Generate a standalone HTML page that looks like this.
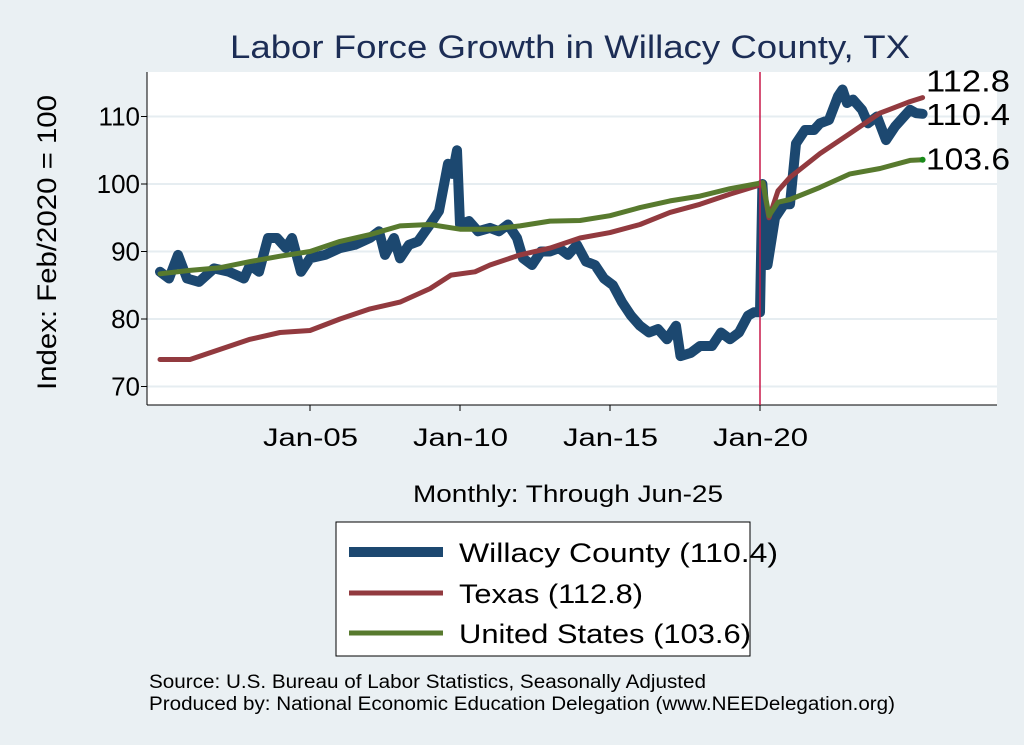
<!DOCTYPE html>
<html><head><meta charset="utf-8"><style>
body{margin:0;background:#eaf0f3;}
svg{display:block;font-family:"Liberation Sans",sans-serif;}
</style></head><body>
<svg width="1024" height="745" viewBox="0 0 1024 745" xml:space="preserve">
<rect x="0" y="0" width="1024" height="745" fill="#eaf0f3"/>
<rect x="147" y="72" width="850" height="333" fill="#fff"/>
<text x="230" y="58" font-size="32" fill="#1c2d55" textLength="680" lengthAdjust="spacingAndGlyphs">Labor Force Growth in Willacy  County, TX</text>
<g id="grid"></g>
<g id="yticks"></g>
<g id="xticks"></g>
<line x1="147" y1="72" x2="147" y2="405" stroke="#000" stroke-width="1"/>
<line x1="147" y1="405" x2="997" y2="405" stroke="#000" stroke-width="1"/>
<text transform="translate(56,390) rotate(-90)" font-size="27" textLength="295" lengthAdjust="spacingAndGlyphs" fill="#000">Index: Feb/2020 = 100</text>
<text x="413" y="502" font-size="24" textLength="310" lengthAdjust="spacingAndGlyphs" fill="#000">Monthly: Through Jun-25</text>
<g id="series"></g>
<g id="endlabels"></g>
<g>
<rect x="336" y="522" width="414" height="134" fill="#fff" stroke="#000" stroke-width="1"/>
<line x1="349" y1="552" x2="443" y2="552" stroke="#1c4870" stroke-width="10"/>
<text x="459" y="562" font-size="27" textLength="319" lengthAdjust="spacingAndGlyphs">Willacy  County (110.4)</text>
<line x1="349" y1="593" x2="443" y2="593" stroke="#923a3f" stroke-width="5"/>
<text x="459" y="603" font-size="27" textLength="184" lengthAdjust="spacingAndGlyphs">Texas (112.8)</text>
<line x1="349" y1="633" x2="443" y2="633" stroke="#587a2e" stroke-width="5"/>
<text x="459" y="643" font-size="27" textLength="292" lengthAdjust="spacingAndGlyphs">United States (103.6)</text>
</g>
<text x="149" y="688" font-size="19" textLength="557" lengthAdjust="spacingAndGlyphs">Source: U.S. Bureau of Labor Statistics, Seasonally Adjusted</text>
<text x="149" y="710" font-size="19" textLength="746" lengthAdjust="spacingAndGlyphs">Produced by: National Economic Education Delegation (www.NEEDelegation.org)</text>
</svg>
<script>
const yTicks=[70,80,90,100,110];
const xTickLabels=["Jan-05","Jan-10","Jan-15","Jan-20"];
const xTickYears=[2005,2010,2015,2020];
const willacyT=[2000.0,2000.3,2000.6,2000.9,2001.3,2001.8,2002.3,2002.8,2003.0,2003.3,2003.6,2003.9,2004.2,2004.4,2004.7,2005.0,2005.5,2006.0,2006.5,2007.0,2007.3,2007.5,2007.8,2008.0,2008.3,2008.6,2009.0,2009.3,2009.6,2009.75,2009.9,2010.0,2010.3,2010.6,2011.0,2011.3,2011.6,2011.9,2012.1,2012.4,2012.7,2013.0,2013.3,2013.6,2013.9,2014.2,2014.5,2014.8,2015.1,2015.4,2015.7,2016.0,2016.3,2016.6,2016.9,2017.2,2017.35,2017.7,2018.0,2018.4,2018.7,2019.0,2019.3,2019.6,2019.8,2020.0,2020.08,2020.25,2020.5,2020.8,2021.0,2021.2,2021.5,2021.8,2022.0,2022.3,2022.6,2022.75,2022.9,2023.1,2023.4,2023.6,2023.9,2024.2,2024.5,2024.8,2025.0,2025.2,2025.42];
const willacyV=[87,86,89.5,86,85.5,87.5,87,86,88,87,92,92,90.5,92,87,89,89.5,90.5,91,92,93,89.5,92,89,91,91.5,94,96,103,101.5,105,94,94.5,93,93.5,93,94,92,89,88,90,90,90.5,89.5,91,88.5,88,86,85,82.5,80.5,79,78,78.5,77,79,74.5,75,76,76,78,77,78,80.5,81,81,100,88,95,97,97,106,108,108,109,109.5,113,114,112,112.5,111,109,110,106.5,108.5,110,111,110.5,110.4];
const texasT=[2000,2001,2002,2003,2004,2005,2006,2007,2008,2009,2009.7,2010.5,2011,2012,2013,2014,2015,2016,2017,2018,2019,2020.1,2020.3,2020.6,2021,2022,2023,2024,2025,2025.42];
const texasV=[74,74,75.5,77,78,78.3,80,81.5,82.5,84.5,86.5,87,88,89.5,90.5,92,92.8,94,95.8,97,98.5,100,95,99,101,104.5,107.5,110.5,112.2,112.8];
const usT=[2000,2001,2002,2003,2004,2005,2006,2007,2008,2009,2010,2011,2012,2013,2014,2015,2016,2017,2018,2019,2020.1,2020.3,2020.6,2021,2022,2023,2024,2025,2025.42];
const usV=[86.7,87.2,87.6,88.5,89.3,90,91.5,92.5,93.8,94,93.3,93.3,93.8,94.5,94.6,95.3,96.5,97.5,98.2,99.3,100.2,95.3,97.3,97.7,99.5,101.5,102.3,103.5,103.6];
const endLabels=["112.8","110.4","103.6"];
const endValues=[112.8,110.4,103.6];

const NS="http://www.w3.org/2000/svg";
function yS(v){return 184-(v-100)*6.75;}
function xS(t){return 160+(t-2000)*30;}
function mk(tag,attrs,parent){const e=document.createElementNS(NS,tag);for(const k in attrs)e.setAttribute(k,attrs[k]);parent.appendChild(e);return e;}
const grid=document.getElementById('grid'),yt=document.getElementById('yticks'),xt=document.getElementById('xticks');
yTicks.forEach(v=>{
  const g=mk('line',{x1:147,x2:997,y1:yS(v),y2:yS(v),stroke:'#e6edf1','stroke-width':2},grid);
  
  
  const tk=mk('line',{x1:141,x2:147,y1:yS(v),y2:yS(v),stroke:'#000'},yt);
  
  
  const t=mk('text',{x:140,y:yS(v)+9,'font-size':26,'text-anchor':'end'},yt);
  t.textContent=v;
  
  
});
xTickYears.forEach((yr,i)=>{
  const tk=mk('line',{x1:xS(yr),x2:xS(yr),y1:405,y2:411,stroke:'#000'},xt);
  
  
  const t=mk('text',{x:xS(yr)-47,y:446,'font-size':25,textLength:95,lengthAdjust:'spacingAndGlyphs'},xt);
  t.textContent=xTickLabels[i];
  
  
});
const ser=document.getElementById('series');
function line(T,V,color,w,name){
  const d=T.map((t,i)=>(i?'L':'M')+xS(t).toFixed(1)+','+yS(V[i]).toFixed(1)).join(' ');
  const p=mk('path',{d:d,fill:'none',stroke:color,'stroke-width':w,'stroke-linejoin':'round','stroke-linecap':'round'},ser);
  
  
}
line(willacyT,willacyV,'#1c4870',10,'willacy-line');
line(texasT,texasV,'#923a3f',5,'texas-line');
line(usT,usV,'#587a2e',5,'us-line');
const ref=mk('line',{x1:xS(2020),x2:xS(2020),y1:72,y2:405,stroke:'#c8194a','stroke-width':1.5},ser);


const dot=mk('circle',{cx:xS(2025.42),cy:yS(103.6),r:3,fill:'#1a8a1a'},ser);


const el=document.getElementById('endlabels');
const labelY=[yS(endValues[0])-6,yS(endValues[1])+11,yS(endValues[2])+10];
endLabels.forEach((s,i)=>{
  const t=mk('text',{x:926,y:labelY[i],'font-size':31,textLength:84,lengthAdjust:'spacingAndGlyphs'},el);
  t.textContent=s;
  
  
});
</script>
</body></html>
